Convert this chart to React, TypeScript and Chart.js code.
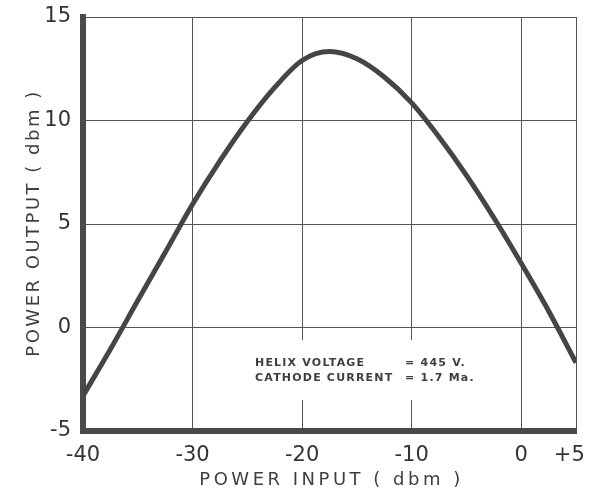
import React, { useEffect, useRef } from "react";
import { Chart, registerables } from "chart.js";

Chart.register(...registerables);

const inputDbm = [-40, -37.5, -35, -32.5, -30, -27.5, -25, -22.5, -20, -17.5, -15, -12.5, -10, -7.5, -5, -2.5, 0, 2.5, 5];
const outputDbm = [-3.3, -1.05, 1.3, 3.62, 5.95, 8.05, 9.95, 11.6, 12.9, 13.33, 12.98, 12.1, 10.85, 9.2, 7.35, 5.3, 3.1, 0.8, -1.7];
const xTickValues = [-40, -30, -20, -10, 0, 5];
const yTickValues = [-5, 0, 5, 10, 15];
const xTitle = "POWER INPUT ( dbm )";
const yTitle = "POWER OUTPUT ( dbm )";
const noteLabels = ["HELIX VOLTAGE", "CATHODE CURRENT"];
const noteValues = ["= 445 V.", "= 1.7 Ma."];

const INK = "#3f3f3f";

const decorPlugin = {
  id: "decor",
  beforeDatasetsDraw(chart: any) {
    const { ctx, scales } = chart;
    const x = scales.x;
    const y = scales.y;
    ctx.save();
    const bx0 = x.getPixelForValue(-26);
    const bx1 = x.getPixelForValue(-4.6);
    const by0 = y.getPixelForValue(-0.6);
    const by1 = y.getPixelForValue(-3.5);
    ctx.fillStyle = "#ffffff";
    ctx.fillRect(bx0, by0, bx1 - bx0, by1 - by0);
    ctx.fillStyle = INK;
    ctx.font = "bold 11px 'DejaVu Sans'";
    (ctx as any).letterSpacing = "1.2px";
    ctx.textBaseline = "middle";
    ctx.textAlign = "left";
    const lx = x.getPixelForValue(-24.3);
    const vx = x.getPixelForValue(-10.6);
    const ly = [y.getPixelForValue(-1.7), y.getPixelForValue(-2.45)];
    noteLabels.forEach((t, i) => {
      ctx.fillText(t, lx, ly[i]);
      ctx.fillText(noteValues[i], vx, ly[i]);
    });
    ctx.restore();
  },
  afterDraw(chart: any) {
    const { ctx, chartArea } = chart;
    ctx.save();
    ctx.fillStyle = INK;
    ctx.font = "18px 'DejaVu Sans'";
    ctx.textAlign = "center";
    ctx.textBaseline = "alphabetic";
    (ctx as any).letterSpacing = "3.5px";
    ctx.fillText(xTitle, (chartArea.left + chartArea.right) / 2 + 2, chart.height - 6);
    (ctx as any).letterSpacing = "2.5px";
    ctx.translate(39, (chartArea.top + chartArea.bottom) / 2 - 1);
    ctx.rotate(-Math.PI / 2);
    ctx.fillText(yTitle, 0, 0);
    ctx.restore();
  },
};

export default function App() {
  const ref = useRef<HTMLCanvasElement | null>(null);
  useEffect(() => {
    document.body.style.margin = "0";
    const canvas = ref.current!;
    const chart = new Chart(canvas, {
      type: "line",
      data: {
        datasets: [
          {
            data: inputDbm.map((v, i) => ({ x: v, y: outputDbm[i] })),
            borderColor: "#454545",
            borderWidth: 5,
            pointRadius: 0,
            cubicInterpolationMode: "monotone",
            fill: false,
          },
        ],
      },
      options: {
        animation: false,
        responsive: false,
        devicePixelRatio: 1,
        layout: { padding: { top: 17, right: 15, left: 0, bottom: 0 } },
        plugins: { legend: { display: false }, tooltip: { enabled: false }, title: { display: false } },
        scales: {
          x: {
            type: "linear",
            min: -40,
            max: 5,
            afterBuildTicks: (s: any) => {
              s.ticks = xTickValues.map((v) => ({ value: v }));
            },
            afterFit: (s: any) => {
              s.height = 60;
              s.paddingLeft = 0;
              s.paddingRight = 0;
            },
            grid: { color: "#555", lineWidth: 1, drawTicks: false },
            border: { display: true, color: "#4a4a4a", width: 6 },
            ticks: {
              padding: 12,
              color: "#333",
              font: { family: "'DejaVu Sans'", size: 21 },
              maxRotation: 0,
              autoSkip: false,
              callback: (v: any) => (v === 5 ? "+5  " : String(v)),
            },
          },
          y: {
            type: "linear",
            min: -5,
            max: 15,
            afterBuildTicks: (s: any) => {
              s.ticks = yTickValues.map((v) => ({ value: v }));
            },
            afterFit: (s: any) => {
              s.width = 83;
              s.paddingTop = 0;
              s.paddingBottom = 0;
            },
            grid: { color: "#555", lineWidth: 1, drawTicks: false },
            border: { display: true, color: "#4a4a4a", width: 6 },
            ticks: {
              padding: 12,
              color: "#333",
              font: { family: "'DejaVu Sans'", size: 21 },
              autoSkip: false,
            },
          },
        },
      },
      plugins: [decorPlugin],
    } as any);
    return () => chart.destroy();
  }, []);
  return (
    <div style={{ width: 591, height: 491 }}>
      <canvas ref={ref} width={591} height={491} style={{ display: "block" }} />
    </div>
  );
}
